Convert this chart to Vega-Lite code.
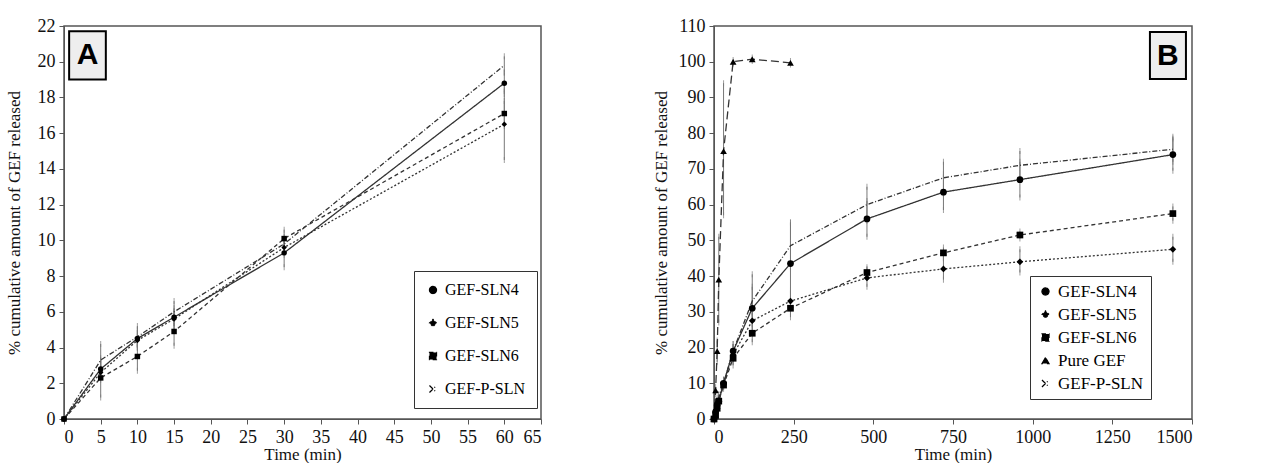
{
  "$schema": "https://vega.github.io/schema/vega-lite/v6.json",
  "padding": {"left": 4, "top": 16, "right": 5, "bottom": 0},
  "spacing": 108,
  "background": "white",
  "config": {
    "font": "'Liberation Serif', 'DejaVu Serif', serif",
    "view": {"stroke": "#555", "strokeWidth": 1.5},
    "axis": {"grid": false, "labelFont": "'Liberation Serif', 'DejaVu Serif', serif", "titleFont": "'Liberation Serif', 'DejaVu Serif', serif", "labelFontSize": 18, "titleFontSize": 17, "titleFontWeight": "normal", "labelColor": "#111", "titleColor": "#111", "domainColor": "#555", "tickColor": "#555", "labelPadding": 4},
    "legend": {"labelFontSize": 17, "labelFont": "'Liberation Serif', 'DejaVu Serif', serif", "strokeColor": "#333", "padding": 9, "symbolStrokeColor": "black", "symbolFillColor": "black", "symbolSize": 50, "symbolStrokeWidth": 1.2, "labelLimit": 200}
  },
  "datasets": {
    "a": [
      {"s": "GEF-SLN4", "t": 0, "y": 0, "lo": 0, "hi": 0},
      {"s": "GEF-SLN4", "t": 5, "y": 2.8, "lo": 2.3, "hi": 3.3},
      {"s": "GEF-SLN4", "t": 10, "y": 4.5, "lo": 4.0, "hi": 5.0},
      {"s": "GEF-SLN4", "t": 15, "y": 5.7, "lo": 5.2, "hi": 6.2},
      {"s": "GEF-SLN4", "t": 30, "y": 9.3, "lo": 8.5, "hi": 10.1},
      {"s": "GEF-SLN4", "t": 60, "y": 18.8, "lo": 18.2, "hi": 19.4},
      {"s": "GEF-SLN5", "t": 0, "y": 0, "lo": 0, "hi": 0},
      {"s": "GEF-SLN5", "t": 5, "y": 2.6, "lo": 2.2, "hi": 3.0},
      {"s": "GEF-SLN5", "t": 10, "y": 4.4, "lo": 4.0, "hi": 4.8},
      {"s": "GEF-SLN5", "t": 15, "y": 5.6, "lo": 5.2, "hi": 6.0},
      {"s": "GEF-SLN5", "t": 30, "y": 9.6, "lo": 9.2, "hi": 10.0},
      {"s": "GEF-SLN5", "t": 60, "y": 16.5, "lo": 14.5, "hi": 18.5},
      {"s": "GEF-SLN6", "t": 0, "y": 0, "lo": 0, "hi": 0},
      {"s": "GEF-SLN6", "t": 5, "y": 2.3, "lo": 1.2, "hi": 3.4},
      {"s": "GEF-SLN6", "t": 10, "y": 3.5, "lo": 2.7, "hi": 4.3},
      {"s": "GEF-SLN6", "t": 15, "y": 4.9, "lo": 4.1, "hi": 5.7},
      {"s": "GEF-SLN6", "t": 30, "y": 10.1, "lo": 9.6, "hi": 10.6},
      {"s": "GEF-SLN6", "t": 60, "y": 17.1, "lo": 16.4, "hi": 17.8},
      {"s": "GEF-P-SLN", "t": 0, "y": 0, "lo": 0, "hi": 0},
      {"s": "GEF-P-SLN", "t": 5, "y": 3.3, "lo": 2.5, "hi": 4.2},
      {"s": "GEF-P-SLN", "t": 10, "y": 4.6, "lo": 4.0, "hi": 5.2},
      {"s": "GEF-P-SLN", "t": 15, "y": 6.0, "lo": 5.5, "hi": 6.6},
      {"s": "GEF-P-SLN", "t": 30, "y": 9.8, "lo": 9.4, "hi": 10.2},
      {"s": "GEF-P-SLN", "t": 60, "y": 19.8, "lo": 19.4, "hi": 20.3}
    ],
    "b": [
      {"s": "GEF-SLN4", "t": 0, "y": 0, "lo": 0, "hi": 0},
      {"s": "GEF-SLN4", "t": 5, "y": 2, "lo": 1, "hi": 3},
      {"s": "GEF-SLN4", "t": 10, "y": 4, "lo": 3, "hi": 5},
      {"s": "GEF-SLN4", "t": 15, "y": 5, "lo": 4, "hi": 6},
      {"s": "GEF-SLN4", "t": 30, "y": 10, "lo": 9, "hi": 11},
      {"s": "GEF-SLN4", "t": 60, "y": 19, "lo": 17, "hi": 21},
      {"s": "GEF-SLN4", "t": 120, "y": 31, "lo": 27, "hi": 40.5},
      {"s": "GEF-SLN4", "t": 240, "y": 43.5, "lo": 32, "hi": 55},
      {"s": "GEF-SLN4", "t": 480, "y": 56, "lo": 51, "hi": 61},
      {"s": "GEF-SLN4", "t": 720, "y": 63.5, "lo": 58.5, "hi": 68.5},
      {"s": "GEF-SLN4", "t": 960, "y": 67, "lo": 62, "hi": 72},
      {"s": "GEF-SLN4", "t": 1440, "y": 74, "lo": 69.5, "hi": 78.5},
      {"s": "GEF-SLN5", "t": 0, "y": 0, "lo": 0, "hi": 0},
      {"s": "GEF-SLN5", "t": 5, "y": 2, "lo": 1, "hi": 3},
      {"s": "GEF-SLN5", "t": 10, "y": 3, "lo": 2, "hi": 4},
      {"s": "GEF-SLN5", "t": 15, "y": 5, "lo": 4, "hi": 6},
      {"s": "GEF-SLN5", "t": 30, "y": 10, "lo": 9, "hi": 11},
      {"s": "GEF-SLN5", "t": 60, "y": 18, "lo": 16, "hi": 20},
      {"s": "GEF-SLN5", "t": 120, "y": 27.5, "lo": 24, "hi": 31},
      {"s": "GEF-SLN5", "t": 240, "y": 33, "lo": 30, "hi": 36},
      {"s": "GEF-SLN5", "t": 480, "y": 39.5, "lo": 37, "hi": 42},
      {"s": "GEF-SLN5", "t": 720, "y": 42, "lo": 39, "hi": 45},
      {"s": "GEF-SLN5", "t": 960, "y": 44, "lo": 41, "hi": 47.5},
      {"s": "GEF-SLN5", "t": 1440, "y": 47.5, "lo": 44, "hi": 51},
      {"s": "GEF-SLN6", "t": 0, "y": 0, "lo": 0, "hi": 0},
      {"s": "GEF-SLN6", "t": 5, "y": 1, "lo": 0, "hi": 2},
      {"s": "GEF-SLN6", "t": 10, "y": 3, "lo": 2, "hi": 4},
      {"s": "GEF-SLN6", "t": 15, "y": 5, "lo": 4, "hi": 6},
      {"s": "GEF-SLN6", "t": 30, "y": 9.5, "lo": 8.5, "hi": 10.5},
      {"s": "GEF-SLN6", "t": 60, "y": 17, "lo": 15, "hi": 19},
      {"s": "GEF-SLN6", "t": 120, "y": 24, "lo": 21.5, "hi": 26.5},
      {"s": "GEF-SLN6", "t": 240, "y": 31, "lo": 28.5, "hi": 33.5},
      {"s": "GEF-SLN6", "t": 480, "y": 41, "lo": 39.5, "hi": 42.5},
      {"s": "GEF-SLN6", "t": 720, "y": 46.5, "lo": 45, "hi": 48},
      {"s": "GEF-SLN6", "t": 960, "y": 51.5, "lo": 50.5, "hi": 52.5},
      {"s": "GEF-SLN6", "t": 1440, "y": 57.5, "lo": 55.5, "hi": 59.5},
      {"s": "Pure GEF", "t": 0, "y": 0, "lo": 0, "hi": 0},
      {"s": "Pure GEF", "t": 5, "y": 8, "lo": 7, "hi": 9},
      {"s": "Pure GEF", "t": 10, "y": 19, "lo": 16, "hi": 22},
      {"s": "Pure GEF", "t": 15, "y": 39, "lo": 27, "hi": 51},
      {"s": "Pure GEF", "t": 30, "y": 75, "lo": 57, "hi": 94},
      {"s": "Pure GEF", "t": 60, "y": 100, "lo": 99.5, "hi": 100.5},
      {"s": "Pure GEF", "t": 120, "y": 100.7, "lo": 100.2, "hi": 101.2},
      {"s": "Pure GEF", "t": 240, "y": 99.7, "lo": 99.2, "hi": 100.2},
      {"s": "GEF-P-SLN", "t": 0, "y": 0, "lo": 0, "hi": 0},
      {"s": "GEF-P-SLN", "t": 5, "y": 3, "lo": 2, "hi": 4},
      {"s": "GEF-P-SLN", "t": 10, "y": 5, "lo": 4, "hi": 6},
      {"s": "GEF-P-SLN", "t": 15, "y": 6, "lo": 5, "hi": 7},
      {"s": "GEF-P-SLN", "t": 30, "y": 10, "lo": 9, "hi": 11},
      {"s": "GEF-P-SLN", "t": 60, "y": 19, "lo": 17, "hi": 21},
      {"s": "GEF-P-SLN", "t": 120, "y": 33, "lo": 29, "hi": 37},
      {"s": "GEF-P-SLN", "t": 240, "y": 48.5, "lo": 42, "hi": 55},
      {"s": "GEF-P-SLN", "t": 480, "y": 60, "lo": 55.5, "hi": 65},
      {"s": "GEF-P-SLN", "t": 720, "y": 67.5, "lo": 63, "hi": 72},
      {"s": "GEF-P-SLN", "t": 960, "y": 71, "lo": 67, "hi": 75},
      {"s": "GEF-P-SLN", "t": 1440, "y": 75.5, "lo": 72, "hi": 79}
    ]
  },
  "resolve": {"legend": {"shape": "independent", "strokeDash": "independent"}, "scale": {"shape": "independent", "strokeDash": "independent"}},
  "hconcat": [
    {
      "width": 477,
      "height": 393,
      "data": {"name": "a"},
      "encoding": {
        "x": {"field": "t", "type": "quantitative", "title": "Time (min)", "scale": {"domain": [0, 65], "nice": false}, "axis": {"values": [0,5,10,15,20,25,30,35,40,45,50,55,60,65], "titlePadding": 0}},
        "y": {"field": "y", "type": "quantitative", "title": "% cumulative amount of GEF released", "scale": {"domain": [0, 22], "nice": false}, "axis": {"values": [0,2,4,6,8,10,12,14,16,18,20,22], "titlePadding": 14}}
      },
      "layer": [
        {"mark": {"type": "rule", "color": "#777", "strokeWidth": 1}, "encoding": {"y": {"field": "lo", "type": "quantitative"}, "y2": {"field": "hi"}, "detail": {"field": "s"}}},
        {"mark": {"type": "tick", "color": "#777", "size": 6, "thickness": 1}, "encoding": {"y": {"field": "lo", "type": "quantitative"}}},
        {"mark": {"type": "tick", "color": "#777", "size": 6, "thickness": 1}, "encoding": {"y": {"field": "hi", "type": "quantitative"}}},
        {"mark": {"type": "line", "color": "#333", "strokeWidth": 1.3},
          "encoding": {"strokeDash": {"field": "s", "type": "nominal", "scale": {"domain": ["GEF-SLN4", "GEF-SLN5", "GEF-SLN6", "GEF-P-SLN"], "range": [[1, 0], [2, 2], [4, 3], [5, 2, 1, 2]]},
            "legend": {"title": null, "orient": "none", "legendX": 350, "legendY": 245, "rowPadding": 17, "labelFontSize": 16, "padding": 11}}}},
        {"mark": {"type": "point", "filled": true, "color": "black", "opacity": 1},
          "encoding": {"shape": {"field": "s", "type": "nominal", "scale": {"domain": ["GEF-SLN4", "GEF-SLN5", "GEF-SLN6", "GEF-P-SLN"], "range": ["circle", "diamond", "square", "M-1,-1L1,1M-1,1L1,-1"]}, "legend": null},
            "size": {"value": 30}}},
        {"data": {"values": [{"x": 0.7, "x2": 5.7, "y": 19.0, "y2": 21.7}]},
          "mark": {"type": "rect", "fill": "#eee", "stroke": "black", "strokeWidth": 2},
          "encoding": {"x": {"field": "x", "type": "quantitative"}, "x2": {"field": "x2"}, "y": {"field": "y", "type": "quantitative"}, "y2": {"field": "y2"}}},
        {"data": {"values": [{"x": 3.2, "y": 20.35, "lbl": "A"}]},
          "mark": {"type": "text", "font": "Liberation Sans", "fontWeight": "bold", "fontSize": 30, "baseline": "middle"},
          "encoding": {"x": {"field": "x", "type": "quantitative"}, "y": {"field": "y", "type": "quantitative"}, "text": {"field": "lbl"}}}
      ]
    },
    {
      "width": 478,
      "height": 393,
      "data": {"name": "b"},
      "encoding": {
        "x": {"field": "t", "type": "quantitative", "title": "Time (min)", "scale": {"domain": [0, 1500], "nice": false}, "axis": {"values": [0,250,500,750,1000,1250,1500], "format": "d", "titlePadding": 0}},
        "y": {"field": "y", "type": "quantitative", "title": "% cumulative amount of GEF released", "scale": {"domain": [0, 110], "nice": false}, "axis": {"values": [0,10,20,30,40,50,60,70,80,90,100,110], "titlePadding": 8}}
      },
      "layer": [
        {"mark": {"type": "rule", "color": "#777", "strokeWidth": 1}, "encoding": {"y": {"field": "lo", "type": "quantitative"}, "y2": {"field": "hi"}, "detail": {"field": "s"}}},
        {"mark": {"type": "tick", "color": "#777", "size": 6, "thickness": 1}, "encoding": {"y": {"field": "lo", "type": "quantitative"}}},
        {"mark": {"type": "tick", "color": "#777", "size": 6, "thickness": 1}, "encoding": {"y": {"field": "hi", "type": "quantitative"}}},
        {"mark": {"type": "line", "color": "#333", "strokeWidth": 1.3},
          "encoding": {"strokeDash": {"field": "s", "type": "nominal", "scale": {"domain": ["GEF-SLN4", "GEF-SLN5", "GEF-SLN6", "Pure GEF", "GEF-P-SLN"], "range": [[1, 0], [2, 2], [4, 3], [8, 4], [5, 2, 1, 2]]},
            "legend": {"title": null, "orient": "none", "legendX": 316, "legendY": 250, "rowPadding": 5, "padding": 7, "labelFontSize": 17}}}},
        {"mark": {"type": "point", "filled": true, "color": "black", "opacity": 1},
          "encoding": {"shape": {"field": "s", "type": "nominal", "scale": {"domain": ["GEF-SLN4", "GEF-SLN5", "GEF-SLN6", "Pure GEF", "GEF-P-SLN"], "range": ["circle", "diamond", "square", "triangle-up", "M-1,-1L1,1M-1,1L1,-1"]}, "legend": null},
            "size": {"value": 45}}},
        {"data": {"values": [{"x": 1368, "x2": 1481, "y": 95.2, "y2": 108.3}]},
          "mark": {"type": "rect", "fill": "#eee", "stroke": "black", "strokeWidth": 2},
          "encoding": {"x": {"field": "x", "type": "quantitative"}, "x2": {"field": "x2"}, "y": {"field": "y", "type": "quantitative"}, "y2": {"field": "y2"}}},
        {"data": {"values": [{"x": 1424, "y": 101.7, "lbl": "B"}]},
          "mark": {"type": "text", "font": "Liberation Sans", "fontWeight": "bold", "fontSize": 30, "baseline": "middle"},
          "encoding": {"x": {"field": "x", "type": "quantitative"}, "y": {"field": "y", "type": "quantitative"}, "text": {"field": "lbl"}}}
      ]
    }
  ]
}
